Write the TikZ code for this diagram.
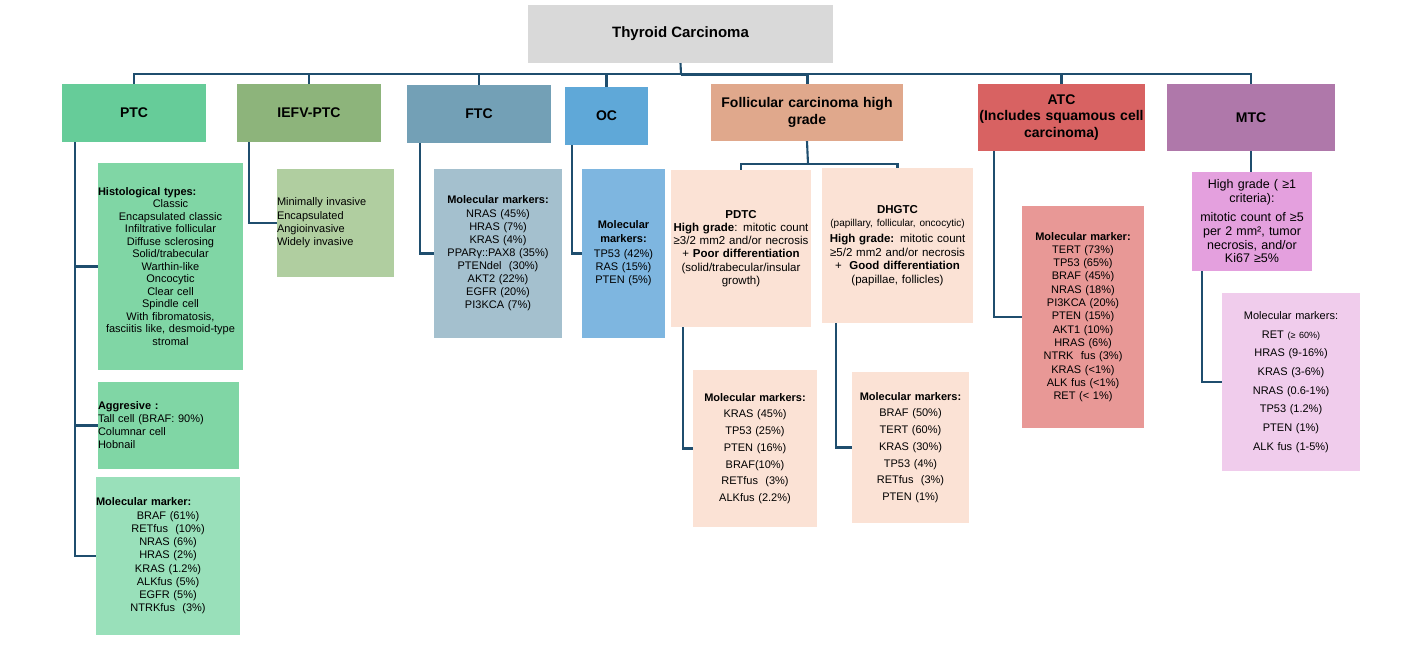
\documentclass[tikz,border=0pt]{standalone}
\usepackage{fontspec}
\setmainfont{Liberation Sans}
\definecolor{LinkBlue}{HTML}{1F4E6E}
\definecolor{TitleGray}{HTML}{D9D9D9}
\definecolor{PtcHead}{HTML}{66CC99}
\definecolor{PtcBox}{HTML}{80D6A5}
\definecolor{PtcMol}{HTML}{99E0BA}
\definecolor{IefvHead}{HTML}{8DB47B}
\definecolor{IefvBox}{HTML}{B0CEA0}
\definecolor{FtcHead}{HTML}{73A0B6}
\definecolor{FtcBox}{HTML}{A4C0CE}
\definecolor{OcHead}{HTML}{5FA8D8}
\definecolor{OcBox}{HTML}{7EB6E0}
\definecolor{FchgHead}{HTML}{E0A88C}
\definecolor{FchgBox}{HTML}{FBE2D5}
\definecolor{AtcHead}{HTML}{D86262}
\definecolor{AtcBox}{HTML}{E89896}
\definecolor{MtcHead}{HTML}{AF78AA}
\definecolor{MtcGrade}{HTML}{E4A0DE}
\definecolor{MtcBox}{HTML}{F0CCEC}
\newcommand{\lefthead}[1]{\hbox to\hsize{\bfseries #1\hfil}}

\begin{document}
\begin{tikzpicture}[x=1pt,y=-1pt,
  link/.style={draw=LinkBlue,line width=2.1pt},
  hdr/.style={inner sep=0pt,align=center,font=\bfseries\fontsize{14}{16.5}\selectfont},
  infobox/.style={inner sep=0pt,align=center,font=\fontsize{11}{13.3}\selectfont}]
  \useasboundingbox (0,0) rectangle (1413,656);

  % top level
  \node[hdr,fill=TitleGray,minimum width=305,minimum height=58,font=\bfseries\fontsize{15}{17}\selectfont]
    (title) at (680.5,34) {Thyroid Carcinoma};
  \coordinate (bus) at (681,74);

  \node[hdr,fill=PtcHead,minimum width=144,minimum height=58] (ptc) at (134,113) {PTC};
  \node[hdr,fill=IefvHead,minimum width=144,minimum height=58] (iefv) at (309,113) {IEFV-PTC};
  \node[hdr,fill=FtcHead,minimum width=144,minimum height=58] (ftc) at (479,114) {FTC};
  \node[hdr,fill=OcHead,minimum width=83,minimum height=58] (oc) at (606.5,116) {OC};
  \node[hdr,fill=FchgHead,text width=192pt,minimum height=57] (fchg) at (807,112.5)
    {Follicular carcinoma high\\grade};
  \node[hdr,fill=AtcHead,text width=167pt,minimum height=67] (atc) at (1061.5,117.5)
    {ATC\\(Includes squamous cell\\carcinoma)};
  \node[hdr,fill=MtcHead,minimum width=168,minimum height=67] (mtc) at (1251,117.5) {MTC};

  \draw[link] (title.south) -- (bus);
  \foreach \h in {ptc,iefv,ftc,oc,atc,mtc}
    \draw[link] (\h.north) |- (bus);
  \draw[link,line width=3pt] (fchg.north) |- (bus);

  % PTC
  \node[infobox,fill=PtcBox,text width=145pt,minimum height=207,font=\fontsize{11}{12.5}\selectfont]
    (histo) at (170.5,266.5)
    {\lefthead{Histological types:}\\Classic\\Encapsulated classic\\Infiltrative follicular\\
     Diffuse sclerosing\\Solid/trabecular\\Warthin-like\\Oncocytic\\Clear cell\\Spindle cell\\
     With fibromatosis,\\fasciitis like, desmoid-type\\stromal};
  \node[infobox,fill=PtcBox,align=left,text width=141pt,minimum height=87,font=\fontsize{11}{13}\selectfont]
    (aggr) at (168.5,425.5)
    {\textbf{Aggresive :}\\Tall cell (BRAF: 90\%)\\Columnar cell\\Hobnail};
  \node[infobox,fill=PtcMol,text width=144pt,minimum height=158,font=\fontsize{11}{13.25}\selectfont]
    (ptcmol) at (168,556)
    {\lefthead{Molecular marker:}\\BRAF (61\%)\\RETfus~ (10\%)\\NRAS (6\%)\\HRAS (2\%)\\
     KRAS (1.2\%)\\ALKfus (5\%)\\EGFR (5\%)\\NTRKfus~ (3\%)};
  \foreach \b in {histo,aggr,ptcmol}
    \draw[link] ([xshift=13pt]ptc.south west) |- (\b.west);

  % IEFV-PTC
  \node[infobox,fill=IefvBox,align=left,text width=117pt,minimum height=108]
    (iefvbox) at (335.5,223)
    {Minimally invasive\\Encapsulated\\Angioinvasive\\Widely invasive};
  \draw[link] ([xshift=12pt]iefv.south west) |- (iefvbox.west);

  % FTC
  \node[infobox,fill=FtcBox,text width=128pt,minimum height=169,font=\fontsize{11}{13.1}\selectfont]
    (ftcbox) at (498,253.5)
    {\textbf{Molecular markers:}\\NRAS (45\%)\\HRAS (7\%)\\KRAS (4\%)\\PPARγ::PAX8 (35\%)\\
     PTENdel~ (30\%)\\AKT2 (22\%)\\EGFR (20\%)\\PI3KCA (7\%)};
  \draw[link] ([xshift=13pt]ftc.south west) |- (ftcbox.west);

  % OC
  \node[infobox,fill=OcBox,text width=83pt,minimum height=169]
    (ocbox) at (623.5,253.5)
    {\textbf{Molecular}\\\textbf{markers:}\\[2pt]TP53 (42\%)\\RAS (15\%)\\PTEN (5\%)};
  \draw[link] ([xshift=7pt]oc.south west) |- (ocbox.west);

  % Follicular carcinoma high grade
  \coordinate (fsplit) at (808,164);
  \node[infobox,fill=FchgBox,text width=140pt,minimum height=157,font=\fontsize{11.5}{13.3}\selectfont]
    (pdtc) at (741,248.5)
    {\textbf{PDTC}\\\textbf{High grade}: mitotic count\\≥3/2 mm2 and/or necrosis\\
     + \textbf{Poor differentiation}\\(solid/trabecular/insular\\growth)};
  \node[infobox,fill=FchgBox,text width=151pt,minimum height=155,font=\fontsize{11.5}{13.6}\selectfont]
    (dhgtc) at (897.5,245.5)
    {\textbf{DHGTC}\\{\fontsize{10}{12}\selectfont(papillary, follicular, oncocytic)}\\[2pt]
     \textbf{High grade:} mitotic count\\≥5/2 mm2 and/or necrosis\\
     +~ \textbf{Good differentiation}\\(papillae, follicles)};
  \draw[link] (fchg.south) -- (fsplit);
  \draw[link] (pdtc.north) |- (fsplit);
  \draw[link] (dhgtc.north) |- (fsplit);

  \node[infobox,fill=FchgBox,text width=124pt,minimum height=157,font=\fontsize{11}{16.7}\selectfont]
    (pdtcmol) at (755,448.5)
    {\textbf{Molecular markers:}\\KRAS (45\%)\\TP53 (25\%)\\PTEN (16\%)\\BRAF(10\%)\\
     RETfus~ (3\%)\\ALKfus (2.2\%)};
  \node[infobox,fill=FchgBox,text width=117pt,minimum height=151,font=\fontsize{11}{16.7}\selectfont]
    (dhgmol) at (910.5,447.5)
    {\textbf{Molecular markers:}\\BRAF (50\%)\\TERT (60\%)\\KRAS (30\%)\\TP53 (4\%)\\
     RETfus~ (3\%)\\PTEN (1\%)};
  \draw[link] ([xshift=12pt]pdtc.south west) |- (pdtcmol.west);
  \draw[link] ([xshift=14pt]dhgtc.south west) |- (dhgmol.west);

  % ATC
  \node[infobox,fill=AtcBox,text width=122pt,minimum height=222]
    (atcmol) at (1083,317)
    {\textbf{Molecular marker:}\\TERT (73\%)\\TP53 (65\%)\\BRAF (45\%)\\NRAS (18\%)\\
     PI3KCA (20\%)\\PTEN (15\%)\\AKT1 (10\%)\\HRAS (6\%)\\NTRK~ fus (3\%)\\
     KRAS (<1\%)\\ALK fus (<1\%)\\RET (< 1\%)};
  \draw[link] ([xshift=16pt]atc.south west) |- (atcmol.west);

  % MTC
  \node[infobox,fill=MtcGrade,text width=120pt,minimum height=99,font=\fontsize{12.5}{13.8}\selectfont]
    (mtchg) at (1252,221.5)
    {High grade ( ≥1\\criteria):\\[5pt]mitotic count of ≥5\\per 2 mm², tumor\\
     necrosis, and/or\\Ki67 ≥5\%};
  \node[infobox,fill=MtcBox,text width=138pt,minimum height=178,font=\fontsize{11}{18.7}\selectfont]
    (mtcmol) at (1291,382)
    {Molecular markers:\\RET {\fontsize{9}{10}\selectfont(≥ 60\%)}\\HRAS (9-16\%)\\KRAS (3-6\%)\\
     NRAS (0.6-1\%)\\TP53 (1.2\%)\\PTEN (1\%)\\ALK fus (1-5\%)};
  \draw[link] (mtc.south) -- (mtc.south |- mtchg.north);
  \draw[link] ([xshift=10pt]mtchg.south west) |- (mtcmol.west);
\end{tikzpicture}
\end{document}
